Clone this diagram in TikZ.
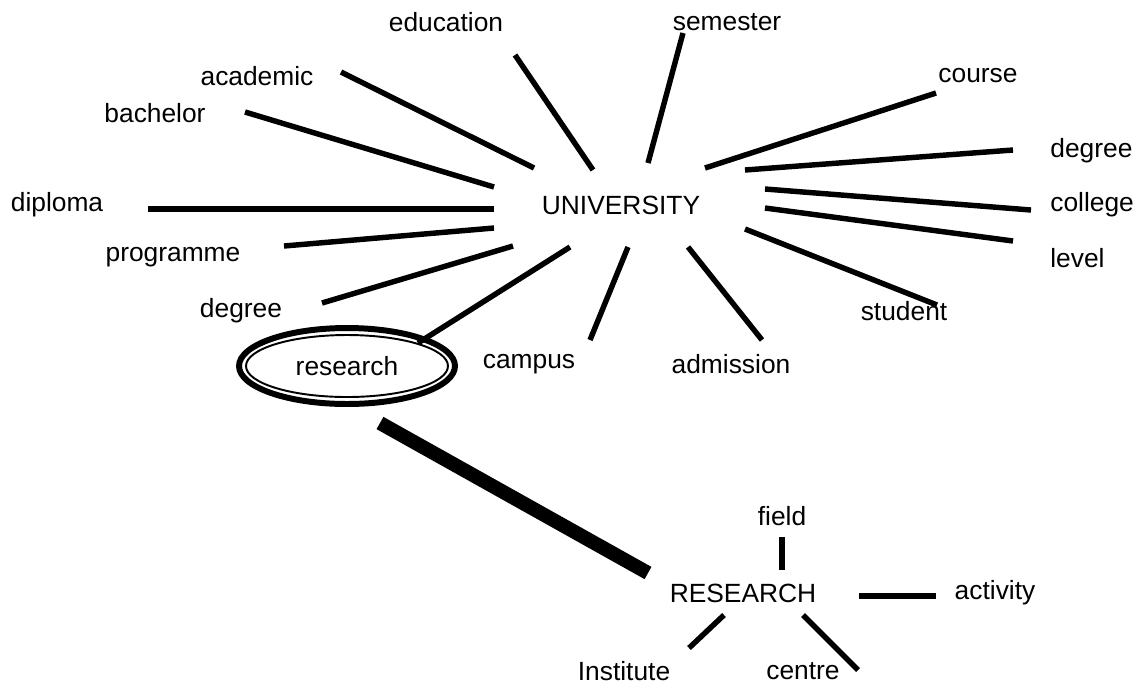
\documentclass[tikz,border=0pt]{standalone}
\usepackage{fontspec}
\setmainfont{Liberation Sans}
\usepackage{tikz}
\usetikzlibrary{shapes.geometric}
\newcommand{\wordsize}{\fontsize{15}{18}\selectfont}

\begin{document}
\begin{tikzpicture}[x=0.02cm,y=-0.02cm,
	word/.style={font=\wordsize, inner sep=0pt},
	spoke/.style={line width=3.1pt},
	bigspoke/.style={line width=8pt}]
	\useasboundingbox (0,0) rectangle (1138,684);

	% words
	\node[word] (UNI) at (621,205) {UNIVERSITY};
	\node[word] (education) at (446,22) {education};
	\node[word] (semester) at (727,22) {semester};
	\node[word] (academic) at (257,76) {academic};
	\node[word] (course) at (978,76) {course};
	\node[word] (bachelor) at (155,113) {bachelor};
	\node[word, anchor=west] (degreeR) at (1050,151) {degree};
	\node[word] (diploma) at (57,205) {diploma};
	\node[word, anchor=west] (college) at (1050,205) {college};
	\node[word] (programme) at (173,257) {programme};
	\node[word, anchor=west] (level) at (1050,258) {level};
	\node[word] (degreeL) at (241,311) {degree};
	\node[word] (student) at (904,311) {student};
	\node[word] (campus) at (529,364) {campus};
	\node[word] (admission) at (731,364) {admission};
	\node[word, ellipse, draw, line width=3.4pt, minimum width=4.32cm, minimum height=1.52cm]
		(research) at (347,366) {research};
	\draw[line width=1.1pt] (research.center) ellipse [x radius=101, y radius=31];

	\node[word] (RES) at (743,593) {RESEARCH};
	\node[word] (field) at (782,516) {field};
	\node[word] (activity) at (995,593) {activity};
	\node[word] (Institute) at (624,671) {Institute};
	\node[word] (centre) at (803,671) {centre};

	% spoke ends
	\coordinate (e1) at (515,55);  \coordinate (e2) at (593,170);
	\coordinate (s1) at (683,33);  \coordinate (s2) at (648,163);
	\coordinate (a1) at (341,72);  \coordinate (a2) at (534,168);
	\coordinate (b1) at (245,112); \coordinate (b2) at (494,187);
	\coordinate (d1) at (148,209); \coordinate (d2) at (494,209);
	\coordinate (p1) at (284,246); \coordinate (p2) at (494,228);
	\coordinate (g1) at (322,303); \coordinate (g2) at (513,246);
	\coordinate (r1) at (418,343); \coordinate (r2) at (570,247);
	\coordinate (c1) at (590,340); \coordinate (c2) at (628,247);
	\coordinate (m1) at (762,340); \coordinate (m2) at (688,247);
	\coordinate (o1) at (705,168); \coordinate (o2) at (936,93);
	\coordinate (h1) at (745,170); \coordinate (h2) at (1013,150);
	\coordinate (l1) at (765,189); \coordinate (l2) at (1031,210);
	\coordinate (v1) at (765,208); \coordinate (v2) at (1013,241);
	\coordinate (t1) at (745,229); \coordinate (t2) at (937,305);
	\coordinate (k1) at (380,423); \coordinate (k2) at (648,573);
	\coordinate (f1) at (782,537); \coordinate (f2) at (782,570);
	\coordinate (y1) at (859,596); \coordinate (y2) at (936,596);
	\coordinate (i1) at (724,615); \coordinate (i2) at (689,648);
	\coordinate (n1) at (803,615); \coordinate (n2) at (858,670);

	\foreach \p in {e,s,a,b,d,p,g,r,c,m,o,h,l,v,t,f,y,i,n}
		\draw[spoke] (\p1) -- (\p2);
	\draw[bigspoke] (k1) -- (k2);
\end{tikzpicture}
\end{document}
